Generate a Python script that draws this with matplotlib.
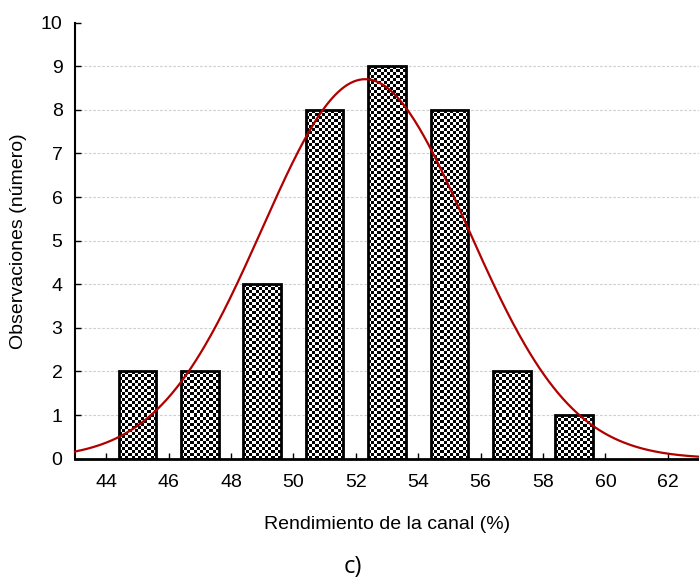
import numpy as np
import matplotlib.pyplot as plt

# Histogram of carcass yield with fitted normal curve
bin_centers = [45, 47, 49, 51, 53, 55, 57, 59]
counts = [2, 2, 4, 8, 9, 8, 2, 1]
x_ticks = [44, 46, 48, 50, 52, 54, 56, 58, 60, 62]
y_ticks = [0, 1, 2, 3, 4, 5, 6, 7, 8, 9, 10]
fit_mean = 52.3
fit_sd = 3.3
bin_width = 2.0

plt.rcParams['font.family'] = ['Liberation Sans', 'DejaVu Sans']

fig = plt.figure(figsize=(6.99, 5.79), dpi=100)
ax = fig.add_axes([0.1073, 0.2078, 0.8927, 0.753])

# dashed horizontal grid
for y in y_ticks[1:-1]:
    ax.axhline(y, color='#d0d0d0', lw=0.8, ls=(0, (2.5, 1.5)), zorder=1)

# checkerboard fill for each bar
bar_w = 1.2
cell_px = 3.0
px_per_x = 624 / 20
px_per_y = 436 / 10
for c, n in zip(bin_centers, counts):
    nx = int(round(bar_w * px_per_x / cell_px))
    ny = int(round(n * px_per_y / cell_px))
    board = (np.indices((ny, nx)).sum(axis=0) % 2).astype(float)
    ax.imshow(board, cmap='gray', extent=(c - bar_w / 2, c + bar_w / 2, 0, n),
              aspect='auto', interpolation='nearest', zorder=2)
ax.bar(bin_centers, counts, width=bar_w, facecolor='none', edgecolor='black',
       linewidth=2, zorder=3)
ax.set_xlim(43, 63)
ax.set_ylim(0, 10)

# normal curve scaled to counts
xs = np.linspace(43, 63, 400)
total = sum(counts)
ys = total * bin_width / (fit_sd * np.sqrt(2 * np.pi)) * np.exp(-0.5 * ((xs - fit_mean) / fit_sd) ** 2)
ax.plot(xs, ys, color='#b00000', lw=1.6, zorder=4, clip_on=False)

ax.set_xticks(x_ticks)
ax.set_yticks(y_ticks)
ax.tick_params(direction='in', length=4, width=1, labelsize=14, color='black')
ax.tick_params(axis='y', pad=9)
ax.tick_params(axis='x', pad=11)
for s in ['top', 'right']:
    ax.spines[s].set_visible(False)
ax.spines['left'].set_linewidth(1.5)
ax.spines['bottom'].set_linewidth(2)

ax.set_xlabel('Rendimiento de la canal (%)', fontsize=14, labelpad=18)
ax.set_ylabel('Observaciones (número)', fontsize=14, labelpad=10)
fig.text(0.505, 0.021, 'c)', fontsize=17, family=['Open Sans', 'DejaVu Sans'],
         ha='center', va='center')

fig.savefig('out.png', dpi=100)
